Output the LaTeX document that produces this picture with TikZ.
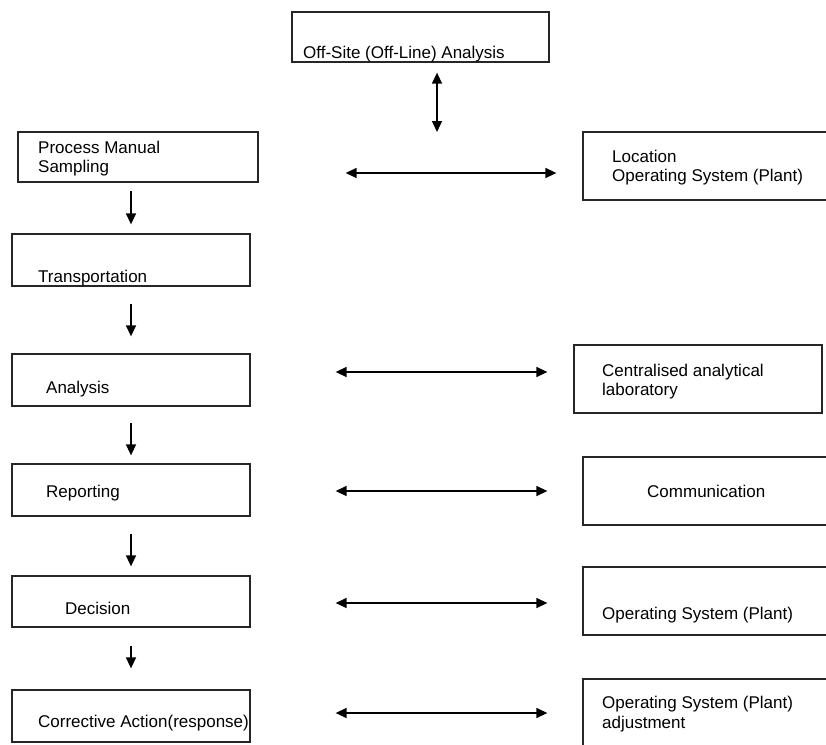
\documentclass[tikz,border=0pt]{standalone}
\usepackage{fontspec}
\setmainfont{Liberation Sans}
\usetikzlibrary{arrows.meta}
\begin{document}
\begin{tikzpicture}[x=1pt,y=-1pt,
  box/.style={draw=black!85, line width=1.3pt, rectangle, inner sep=0pt},
  txt/.style={anchor=base west, inner sep=0pt, font=\fontsize{17}{20}\selectfont},
  flow/.style={line width=1.4pt, -{Triangle[length=11pt,width=10pt]}},
  both/.style={line width=1.4pt, {Triangle[length=11pt,width=10pt]}-{Triangle[length=11pt,width=10pt]}}]
\useasboundingbox (0,0) rectangle (826,744);

% left column
\node[box, minimum width=257pt, minimum height=50pt] (off) at (420.5,37) {};
\node[box, minimum width=240pt, minimum height=50pt] (pms) at (138,157) {};
\node[box, minimum width=238pt, minimum height=52pt] (trans) at (131,260) {};
\node[box, minimum width=238pt, minimum height=52pt] (ana) at (131,380) {};
\node[box, minimum width=238pt, minimum height=52pt] (rep) at (131,490) {};
\node[box, minimum width=238pt, minimum height=51pt] (dec) at (131,601.5) {};
\node[box, minimum width=238pt, minimum height=52pt] (corr) at (131,716) {};

% right column
\node[box, minimum width=252pt, minimum height=68pt] (loc) at (709,166) {};
\node[box, minimum width=248pt, minimum height=68pt] (lab) at (698,379) {};
\node[box, minimum width=252pt, minimum height=68pt] (comm) at (709,491) {};
\node[box, minimum width=252pt, minimum height=68pt] (osp) at (709,601) {};
\node[box, minimum width=252pt, minimum height=71pt] (adj) at (709,714.5) {};

% texts
\node[txt] (toff) at (303,58) {Off-Site (Off-Line) Analysis};
\node[txt] (tpms1) at (38,153) {Process Manual};
\node[txt] (tpms2) at (38,172) {Sampling};
\node[txt] (ttrans) at (38,282) {Transportation};
\node[txt] (tana) at (46,393) {Analysis};
\node[txt] (trep) at (46,497) {Reporting};
\node[txt] (tdec) at (65,614) {Decision};
\node[txt] (tcorr) at (38,727) {Corrective Action(response)};
\node[txt] (tloc1) at (612,162) {Location};
\node[txt] (tloc2) at (612,181) {Operating System (Plant)};
\node[txt] (tlab1) at (602,376) {Centralised analytical};
\node[txt] (tlab2) at (602,395) {laboratory};
\node[txt] (tcomm) at (647,497) {Communication};
\node[txt] (tosp) at (602,619) {Operating System (Plant)};
\node[txt] (tadj1) at (602,708) {Operating System (Plant)};
\node[txt] (tadj2) at (602,728) {adjustment};

% flow down the left column
\draw[flow, shorten <=8pt, shorten >=9pt] (trans.north |- pms.south) -- (trans.north);
\draw[flow, shorten <=17pt, shorten >=17pt] (trans.south) -- (ana.north);
\draw[flow, shorten <=16pt, shorten >=8pt] (ana.south) -- (rep.north);
\draw[flow, shorten <=17pt, shorten >=9pt] (rep.south) -- (dec.north);
\draw[flow, shorten <=18pt, shorten >=21pt] (dec.south) -- (corr.north);

% off-site link
\coordinate (offend) at (437,132);
\draw[both, shorten <=10pt] (off.south -| offend) -- (offend);

% links across
\draw[both, shorten <=87pt, shorten >=26pt] ([yshift=-16pt]pms.east) -- ([yshift=-7pt]loc.west);
\draw[both, shorten <=85pt, shorten >=26pt] ([yshift=8pt]ana.east) -- ([yshift=7pt]lab.west);
\draw[both, shorten <=85pt, shorten >=35pt] ([yshift=-1pt]rep.east) -- (comm.west);
\draw[both, shorten <=85pt, shorten >=35pt] ([yshift=-1.5pt]dec.east) -- ([yshift=-2pt]osp.west);
\draw[both, shorten <=85pt, shorten >=35pt] ([yshift=3pt]corr.east) -- ([yshift=1.5pt]adj.west);
\end{tikzpicture}
\end{document}
